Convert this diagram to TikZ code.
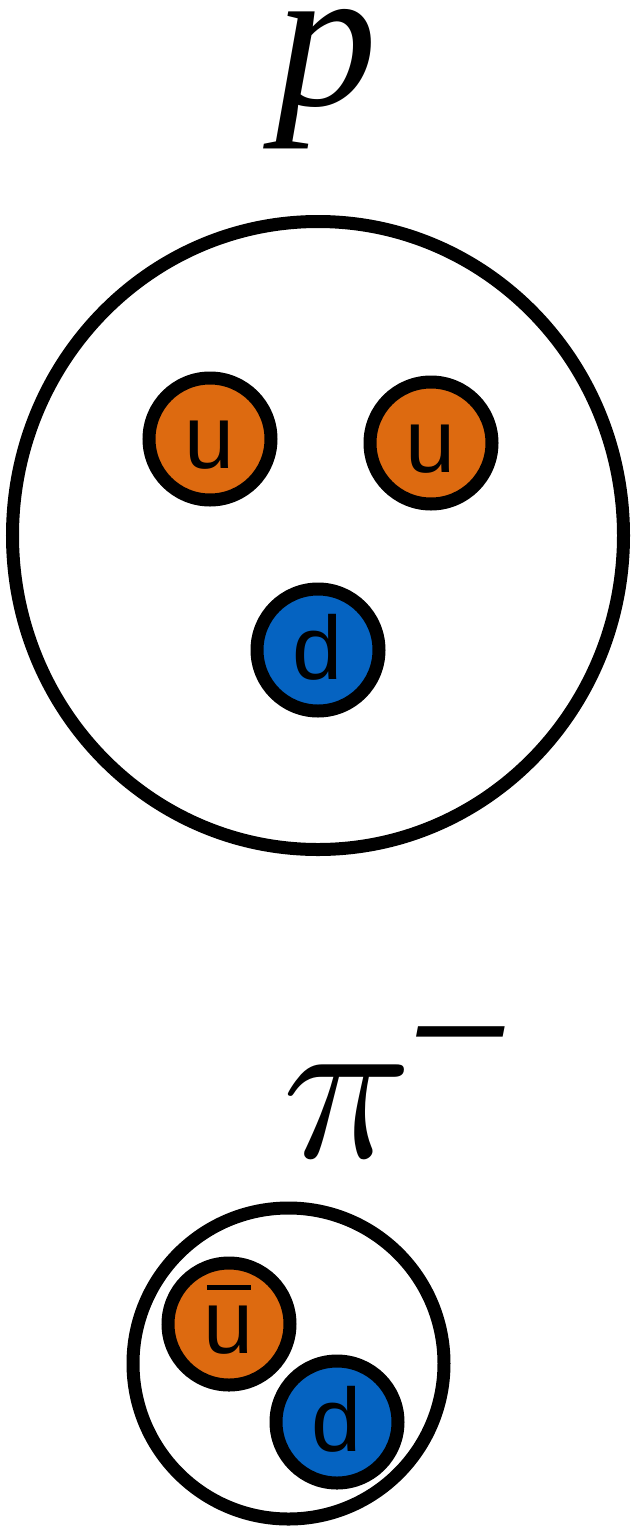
\documentclass[tikz,border=0pt]{standalone}
\usepackage{graphicx}
\usepackage{fontspec}
\setmainfont{Liberation Serif}
\setsansfont{Liberation Sans}
\usetikzlibrary{positioning,shapes.geometric}

\definecolor{upq}{RGB}{221,106,16}
\definecolor{downq}{RGB}{5,99,193}
% bar over an antiquark letter
\newcommand{\antiq}[1]{\makebox[0pt][l]{\hspace{3pt}\rule[63pt]{44pt}{5pt}}#1}

\begin{document}
\begin{tikzpicture}[x=1pt, y=-1pt,
  q/.style={draw, circle, line width=13pt, minimum size=122pt, inner sep=0pt,
    font=\sffamily\fontsize{90}{90}\selectfont, text height=58pt, text depth=0pt},
  had/.style={draw, line width=13pt, inner sep=0pt},
  lbl/.style={font=\itshape\fontsize{204}{204}\selectfont, inner sep=0pt, text height=96pt, text depth=45pt}]
\useasboundingbox (0,0) rectangle (631,1529);
% proton
\node[lbl, anchor=base] (plbl) at (326,105) {p};
\node[had, ellipse, minimum width=611pt, minimum height=628pt] (proton) at (318,535.5) {};
\node[q, fill=upq] (u1) at (210,439) {u};
\node[q, fill=upq] (u2) at (431,443) {u};
\node[q, fill=downq] (d1) at (318,650) {d};
% pion
\node[lbl, text height=130pt, text depth=5pt, anchor=base west] (pilbl) at (282,1157)
  {\scalebox{21.5}{\fontsize{10}{12}\selectfont$\pi$}\hspace{5pt}\raisebox{86pt}{\sffamily\fontsize{156}{156}\selectfont –}};
\node[had, circle, minimum size=311pt] (pion) at (288.5,1363.5) {};
\node[q, fill=upq] (ub) at (229,1324) {\antiq{u}};
\node[q, fill=downq] (d2) at (337,1422) {d};
\end{tikzpicture}
\end{document}
